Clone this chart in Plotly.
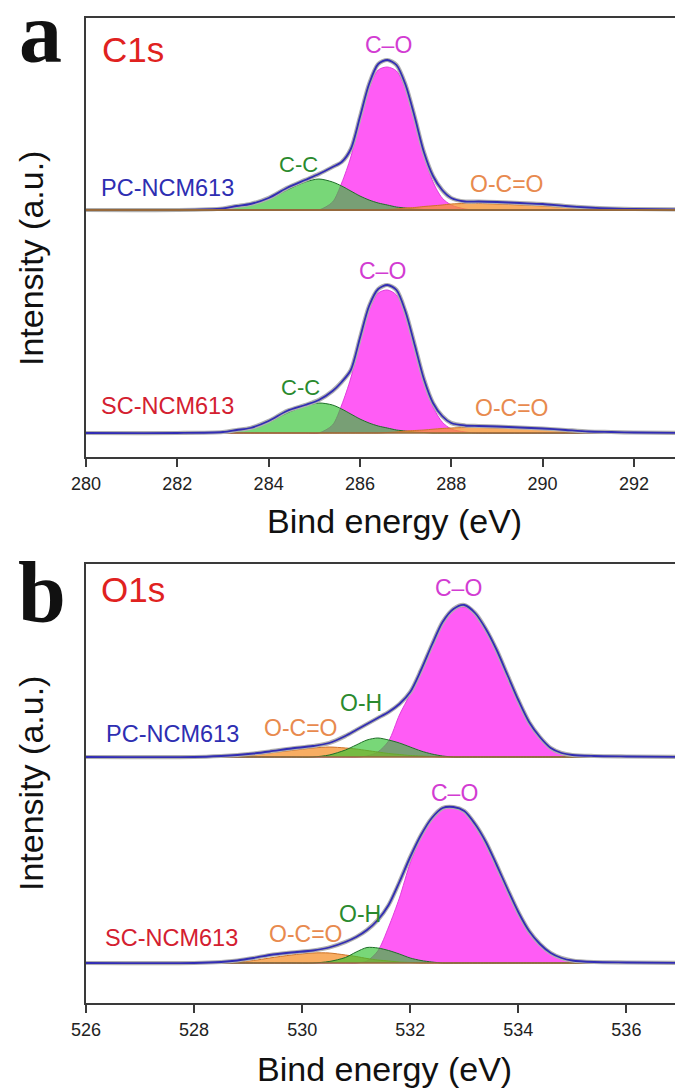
import plotly.graph_objects as go

# ---------------- data (intensities in arbitrary units) ----------------
C1S_X = [280.0, 282.0, 283.0, 283.3, 283.6, 284.0, 284.4, 284.8, 285.1, 285.4, 285.6, 285.8, 286.0,
         286.2, 286.4, 286.6, 286.8, 287.0, 287.2, 287.4, 287.6, 287.8, 288.0, 288.3, 288.6, 289.0,
         289.5, 290.0, 290.5, 291.0, 291.5, 292.0, 293.0]
C1S_PC_ENVELOPE = [0, 0, 1.5, 4, 6, 12, 22, 30, 36, 43, 48, 61, 93, 126, 146, 150, 145, 125, 93, 58,
                   34, 20, 12, 8.5, 8.5, 8, 7, 6, 4, 2.5, 1.5, 1, 0.5]
C1S_PC_CO = [0, 0, 0, 0, 0, 0, 0, 0, 0, 8, 27, 53, 90, 122, 140, 143, 139, 121, 89, 55,
             28, 12, 5, 1, 0, 0, 0, 0, 0, 0, 0, 0, 0]
C1S_PC_CC = [0, 0, 1, 3, 5, 11, 20, 28, 31, 28, 24, 19, 14, 10, 7, 5, 3, 2, 1, 0.5,
             0, 0, 0, 0, 0, 0, 0, 0, 0, 0, 0, 0, 0]
C1S_PC_OCO = [0, 0, 0, 0, 0, 0, 0, 0, 0, 0, 0, 0, 0, 0, 0, 0.5, 1, 2, 2.5, 3.5,
              4.2, 5, 6, 6.5, 6.5, 6, 5, 4, 2.5, 1.5, 0.5, 0, 0]
C1S_SC_ENVELOPE = [0, 0, 1, 3, 5, 12, 22, 28, 33, 42, 51, 63, 95, 127, 144, 148, 143, 121, 88, 54,
                   30, 17, 10, 7.5, 7, 6.5, 5.5, 4.5, 3, 1.5, 1, 0.5, 0]
C1S_SC_CO = [0, 0, 0, 0, 0, 0, 0, 0, 0, 8, 28, 55, 92, 123, 140, 143, 138, 119, 86, 52,
             26, 11, 4, 1, 0, 0, 0, 0, 0, 0, 0, 0, 0]
C1S_SC_CC = [0, 0, 1, 2.5, 5, 11, 20, 27, 30, 28, 24, 19, 14, 10, 7, 5, 3, 2, 1, 0.5,
             0, 0, 0, 0, 0, 0, 0, 0, 0, 0, 0, 0, 0]
C1S_SC_OCO = [0, 0, 0, 0, 0, 0, 0, 0, 0, 0, 0, 0, 0, 0, 0, 0.5, 1, 2, 2.5, 3,
              3.8, 4.5, 5, 5.5, 5.5, 5, 4.5, 3.5, 2.5, 1.5, 0.5, 0, 0]

O1S_X = [526.0, 528.0, 528.5, 528.8, 529.1, 529.4, 529.8, 530.2, 530.5, 530.8, 531.0, 531.2, 531.4,
         531.6, 531.8, 532.0, 532.2, 532.4, 532.6, 532.8, 533.0, 533.2, 533.4, 533.6, 533.8, 534.0,
         534.2, 534.4, 534.6, 534.8, 535.0, 535.4, 536.0, 537.0]
O1S_PC_ENVELOPE = [0, 0, 1, 2, 3.5, 5.5, 8.5, 11, 14, 21, 27, 33, 39, 45, 53, 65, 87, 112, 135, 148,
                   152, 144, 128, 107, 82, 57, 35, 20, 9, 4, 2, 1, 0.5, 0]
O1S_PC_CO = [0, 0, 0, 0, 0, 0, 0, 0, 0, 0, 0, 1, 5, 16, 42, 63, 86, 111, 134, 147,
             150, 143, 127, 106, 81, 56, 34, 19, 8, 3, 1, 0, 0, 0]
O1S_PC_OH = [0, 0, 0, 0, 0, 0, 0, 0, 2, 7, 12, 17, 19, 17, 14, 10, 6, 3, 1, 0,
             0, 0, 0, 0, 0, 0, 0, 0, 0, 0, 0, 0, 0, 0]
O1S_PC_OCO = [0, 0, 0, 1, 2, 4, 6.5, 9, 10, 9, 8, 6.5, 5, 3.5, 2.5, 1.5, 1, 0.5, 0, 0,
              0, 0, 0, 0, 0, 0, 0, 0, 0, 0, 0, 0, 0, 0]
O1S_SC_ENVELOPE = [0, 0, 1, 2.5, 5, 8, 10.5, 12.5, 15.5, 21, 26, 33, 43, 58, 81, 106, 128, 145, 155, 156,
                   152, 139, 121, 98, 74, 51, 32, 19, 10, 5, 2.5, 1, 0.5, 0]
O1S_SC_CO = [0, 0, 0, 0, 0, 0, 0, 0, 0, 0, 0, 2, 12, 36, 65, 100, 126, 144, 154, 155,
             151, 138, 120, 97, 73, 50, 31, 18, 9, 4, 1.5, 0, 0, 0]
O1S_SC_OH = [0, 0, 0, 0, 0, 0, 0, 0, 1.5, 5.5, 11, 15.5, 15, 12.5, 9, 5, 2.5, 1, 0, 0,
             0, 0, 0, 0, 0, 0, 0, 0, 0, 0, 0, 0, 0, 0]
O1S_SC_OCO = [0, 0, 0, 1, 2.5, 5, 8, 10, 10, 8, 6.5, 4.5, 3, 2, 1, 0.5, 0, 0, 0, 0,
              0, 0, 0, 0, 0, 0, 0, 0, 0, 0, 0, 0, 0, 0]

C1S_TICKS = [280, 282, 284, 286, 288, 290, 292]
O1S_TICKS = [526, 528, 530, 532, 534, 536]
SAMPLES = ["PC-NCM613", "SC-NCM613"]

# ---------------- layout constants ----------------
W, H = 675, 1092
C1S_OFFSET = 223      # vertical stacking offset of the upper spectrum
O1S_OFFSET = 206
C1S_YRANGE = [-24, 415]
O1S_YRANGE = [-40, 399]
C1S_XRANGE = [280, 292.9]
O1S_XRANGE = [526, 536.9]

FONT = "Liberation Sans, Arial, Helvetica, sans-serif"
PINK_FILL, PINK_LINE = "rgb(255,92,245)", "rgb(225,60,220)"
GREEN_FILL, GREEN_LINE = "rgba(50,195,50,0.66)", "rgb(30,110,40)"
ORANGE_FILL, ORANGE_LINE = "rgba(245,145,45,0.75)", "rgb(205,115,40)"
ENV_COLOR, RAW_COLOR = "rgb(50,45,180)", "rgb(175,175,175)"
BASE_COLOR = "rgb(150,105,60)"


def px(xp, yp):
    return xp / W, 1 - yp / H


fig = go.Figure()


def add_component(xs, ys, off, fill, line, xa, ya):
    fig.add_trace(go.Scatter(x=xs, y=[off] * len(xs), mode="lines", line=dict(width=0, color=line),
                             xaxis=xa, yaxis=ya, showlegend=False, hoverinfo="skip"))
    fig.add_trace(go.Scatter(x=xs, y=[v + off for v in ys], mode="lines", fill="tonexty",
                             fillcolor=fill, line=dict(width=1, color=line, shape="spline", smoothing=0.8),
                             xaxis=xa, yaxis=ya, showlegend=False))


def add_spectrum(xs, env, comps, off, xa, ya, base_on_top=False):
    for ys, fill, line in comps:
        add_component(xs, ys, off, fill, line, xa, ya)
    if not base_on_top:
        fig.add_trace(go.Scatter(x=[xs[0], xs[-1]], y=[off, off], mode="lines",
                                 line=dict(width=1.6, color=BASE_COLOR), xaxis=xa, yaxis=ya, showlegend=False))
    fig.add_trace(go.Scatter(x=xs, y=[v + off for v in env], mode="lines",
                             line=dict(width=4.2, color=RAW_COLOR, shape="spline", smoothing=0.8),
                             xaxis=xa, yaxis=ya, showlegend=False))
    fig.add_trace(go.Scatter(x=xs, y=[v + off for v in env], mode="lines",
                             line=dict(width=1.8, color=ENV_COLOR, shape="spline", smoothing=0.8),
                             xaxis=xa, yaxis=ya, showlegend=False))
    if base_on_top:
        fig.add_trace(go.Scatter(x=[xs[0], xs[-1]], y=[off, off], mode="lines",
                                 line=dict(width=1.8, color=BASE_COLOR), xaxis=xa, yaxis=ya, showlegend=False))


# panel a: C1s
add_spectrum(C1S_X, C1S_PC_ENVELOPE,
             [(C1S_PC_CO, PINK_FILL, PINK_LINE), (C1S_PC_CC, GREEN_FILL, GREEN_LINE),
              (C1S_PC_OCO, ORANGE_FILL, ORANGE_LINE)], C1S_OFFSET, "x", "y", base_on_top=True)
add_spectrum(C1S_X, C1S_SC_ENVELOPE,
             [(C1S_SC_CO, PINK_FILL, PINK_LINE), (C1S_SC_CC, GREEN_FILL, GREEN_LINE),
              (C1S_SC_OCO, ORANGE_FILL, ORANGE_LINE)], 0, "x", "y")
# panel b: O1s
add_spectrum(O1S_X, O1S_PC_ENVELOPE,
             [(O1S_PC_CO, PINK_FILL, PINK_LINE), (O1S_PC_OCO, ORANGE_FILL, ORANGE_LINE),
              (O1S_PC_OH, GREEN_FILL, GREEN_LINE)], O1S_OFFSET, "x2", "y2")
add_spectrum(O1S_X, O1S_SC_ENVELOPE,
             [(O1S_SC_CO, PINK_FILL, PINK_LINE), (O1S_SC_OCO, ORANGE_FILL, ORANGE_LINE),
              (O1S_SC_OH, GREEN_FILL, GREEN_LINE)], 0, "x2", "y2")

axis_common = dict(showline=True, linecolor="#3a3a3a", linewidth=1.6, showgrid=False, zeroline=False,
                   automargin=False)
xdom = [86 / W, 1.0]
xa_common = dict(axis_common, mirror=True, ticks="outside", ticklen=8, tickwidth=1.6, tickcolor="#3a3a3a",
                 tickfont=dict(family=FONT, size=18, color="#222"), ticklabelstandoff=2)
fig.update_layout(
    width=W, height=H, margin=dict(l=0, r=0, t=0, b=0, autoexpand=False),
    paper_bgcolor="white", plot_bgcolor="white", showlegend=False,
    xaxis=dict(xa_common, domain=xdom, range=C1S_XRANGE, tickvals=C1S_TICKS, anchor="y"),
    yaxis=dict(axis_common, domain=[1 - 457 / H, 1 - 18 / H], range=C1S_YRANGE, showticklabels=False,
               ticks="", anchor="x"),
    xaxis2=dict(xa_common, domain=xdom, range=O1S_XRANGE, tickvals=O1S_TICKS, anchor="y2"),
    yaxis2=dict(axis_common, domain=[1 - 1003 / H, 1 - 564 / H], range=O1S_YRANGE, showticklabels=False,
                ticks="", anchor="x2"),
)

ann = []


def label(text, xp, yp, size, color, family=FONT, angle=0, bold=False):
    x, y = px(xp, yp)
    ann.append(dict(text=f"<b>{text}</b>" if bold else text, x=x, y=y, xref="paper", yref="paper",
                    xanchor="center", yanchor="middle", showarrow=False, textangle=angle,
                    font=dict(family=family, size=size, color=color)))


RED, BLUE, GREEN_T, MAG, ORANGE_T = "#e0221f", "#2e2eb2", "#2a8a2e", "#d23cd2", "#e88a4e"
SERIF = "Liberation Serif, Times New Roman, serif"

# panel letters
label("a", 40, 33, 86, "#111", SERIF, bold=True)
label("b", 42, 592, 86, "#111", SERIF, bold=True)
# core-level titles
label("C1s", 133, 50, 35, RED)
label("O1s", 133, 589, 35, RED)
# sample labels
label(SAMPLES[0], 167, 188, 23.5, BLUE)
label(SAMPLES[1], 167, 406, 23.5, "#d42030")
label(SAMPLES[0], 172, 734, 23.5, BLUE)
label(SAMPLES[1], 171, 938, 23.5, "#d42030")
# component labels, C1s
label("C-C", 298, 164, 22, GREEN_T)
label("C-C", 300, 387, 22, GREEN_T)
label("C\u2013O", 388, 45, 23, MAG)
label("C\u2013O", 382, 271, 23, MAG)
label("O-C=O", 507, 184, 23, ORANGE_T)
label("O-C=O", 511, 408, 23, ORANGE_T)
# component labels, O1s
label("O-C=O", 300, 728, 23, ORANGE_T)
label("O-H", 361, 703, 23, GREEN_T)
label("C\u2013O", 458, 588, 23, MAG)
label("O-C=O", 305, 934, 23, ORANGE_T)
label("O-H", 360, 914, 23, GREEN_T)
label("C\u2013O", 454, 793, 23, MAG)
# axis titles
label("Intensity (a.u.)", 31, 259, 34, "#111", angle=-90)
label("Intensity (a.u.)", 31, 784, 34, "#111", angle=-90)
label("Bind energy (eV)", 395, 521, 34, "#111")
label("Bind energy (eV)", 384, 1069, 34, "#111")

fig.update_layout(annotations=ann)
fig.write_html("out.html")
